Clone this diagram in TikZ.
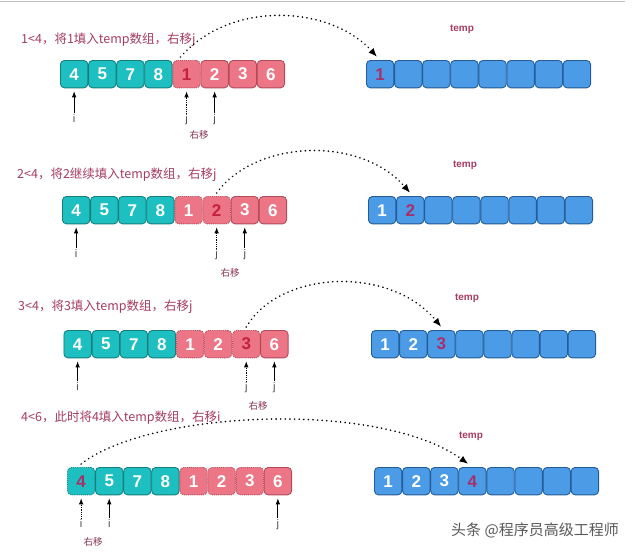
\documentclass[tikz,border=0pt]{standalone}
\usepackage{fontspec}
\setmainfont{Liberation Sans}
\newfontfamily\cjk{Noto Sans CJK SC}
\usetikzlibrary{arrows.meta}
\definecolor{teal1}{HTML}{1DBFC0}
\definecolor{teal2}{HTML}{13807F}
\definecolor{pink1}{HTML}{EC7686}
\definecolor{pink2}{HTML}{B34A5A}
\definecolor{blue1}{HTML}{4C9BE6}
\definecolor{blue2}{HTML}{245C96}
\definecolor{curred}{HTML}{C4203F}
\definecolor{tempred}{HTML}{A8306A}
\definecolor{lbl}{HTML}{A63D60}
\tikzset{
  cell/.style={minimum width=27.4pt, minimum height=27.4pt, rounded corners=4pt,
    line width=0.9pt, inner sep=0pt, anchor=north west, text=white,
    font=\fontsize{17}{17}\selectfont\bfseries},
  tealc/.style={cell, fill=teal1, draw=teal2},
  tealcur/.style={cell, fill=teal1, draw=teal2, densely dotted, text=tempred},
  pinkc/.style={cell, fill=pink1, draw=pink2},
  usedc/.style={cell, fill=pink1, draw=pink2, densely dotted},
  curc/.style={usedc, text=curred},
  bluec/.style={cell, fill=blue1, draw=blue2},
  bluecur/.style={bluec, text=tempred},
  ptr/.style={line width=0.8pt, -{Latex[length=6pt,width=4.5pt]}, shorten >=3pt},
  ptrold/.style={ptr, densely dotted},
  ptrlbl/.style={below, inner sep=1.5pt, text=black!70, font=\fontsize{11}{11}\selectfont},
  movelbl/.style={inner sep=0pt, text=lbl!80!black, font=\cjk\fontsize{9.5}{9.5}\selectfont},
  steplbl/.style={anchor=west, inner sep=0pt, text=lbl, font=\cjk\fontsize{12.5}{12.5}\selectfont},
  templbl/.style={inner sep=0pt, text=lbl, font=\fontsize{10}{10}\selectfont\bfseries},
  jump/.style={line width=1.8pt, dash pattern=on 0.01pt off 4.6pt, line cap=round,
    -{Latex[length=9pt,width=7pt]}},
}
\begin{document}
\begin{tikzpicture}[x=1pt,y=-1pt]
\useasboundingbox (0,0) rectangle (640,555);
\fill[white] (0,0) rectangle (640,555);
\draw[black!25, line width=0.8pt] (0,1) coordinate (tl) -- (625,1) coordinate (tr);

% ---------- row 1 ----------
\node[steplbl] (s1) at (21,40) {1<4，将1填入temp数组，右移j};
\node[templbl] (t1) at (462,29) {temp};
\foreach \v/\s [count=\k] in {4/tealc,5/tealc,7/tealc,8/tealc,1/curc,2/pinkc,3/pinkc,6/pinkc}
  \node[\s] (r1a\k) at ({60+(\k-1)*28.1},60) {\v};
\foreach \v/\s [count=\k] in {1/bluecur,/bluec,/bluec,/bluec,/bluec,/bluec,/bluec,/bluec}
  \node[\s] (r1t\k) at ({366+(\k-1)*28.1},60) {\v};
\coordinate (p1i) at ([yshift=-25pt]r1a1.south);
\coordinate (p1j) at ([yshift=-25pt]r1a5.south);
\coordinate (p1k) at ([yshift=-25pt]r1a6.south);
\draw[ptr] (p1i) -- (r1a1);
\draw[ptrold] (p1j) -- (r1a5);
\draw[ptr] (p1k) -- (r1a6);
\node[ptrlbl] (l1i) at (p1i) {i};
\node[ptrlbl] (l1j) at (p1j) {j};
\node[ptrlbl] (l1k) at (p1k) {j};
\node[movelbl] (m1) at (199,135) {右移};
\draw[jump] ([xshift=-6pt,yshift=3pt]r1a5.north) .. controls (230,0) and (330,5) .. ([xshift=-3pt,yshift=3pt]r1t1.north);

% ---------- row 2 ----------
\node[steplbl] (s2) at (17,175) {2<4，将2继续填入temp数组，右移j};
\node[templbl] (t2) at (465,165) {temp};
\foreach \v/\s [count=\k] in {4/tealc,5/tealc,7/tealc,8/tealc,1/usedc,2/curc,3/pinkc,6/pinkc}
  \node[\s] (r2a\k) at ({62+(\k-1)*28.1},196) {\v};
\foreach \v/\s [count=\k] in {1/bluec,2/bluecur,/bluec,/bluec,/bluec,/bluec,/bluec,/bluec}
  \node[\s] (r2t\k) at ({368+(\k-1)*28.1},196) {\v};
\coordinate (p2i) at ([yshift=-24pt]r2a1.south);
\coordinate (p2j) at ([yshift=-24pt]r2a6.south);
\coordinate (p2k) at ([yshift=-24pt]r2a7.south);
\draw[ptr] (p2i) -- (r2a1);
\draw[ptrold] (p2j) -- (r2a6);
\draw[ptr] (p2k) -- (r2a7);
\node[ptrlbl] (l2i) at (p2i) {i};
\node[ptrlbl] (l2j) at (p2j) {j};
\node[ptrlbl] (l2k) at (p2k) {j};
\node[movelbl] (m2) at (230,273) {右移};
\draw[jump] ([yshift=3pt]r2a6.north) .. controls (255,140) and (360,135) .. ([yshift=3pt]r2t2.north);

% ---------- row 3 ----------
\node[steplbl] (s3) at (18,307) {3<4，将3填入temp数组，右移j};
\node[templbl] (t3) at (467,298) {temp};
\foreach \v/\s [count=\k] in {4/tealc,5/tealc,7/tealc,8/tealc,1/usedc,2/usedc,3/curc,6/pinkc}
  \node[\s] (r3a\k) at ({63.5+(\k-1)*28.1},330) {\v};
\foreach \v/\s [count=\k] in {1/bluec,2/bluec,3/bluecur,/bluec,/bluec,/bluec,/bluec,/bluec}
  \node[\s] (r3t\k) at ({371+(\k-1)*28.1},330) {\v};
\coordinate (p3i) at ([yshift=-23pt]r3a1.south);
\coordinate (p3j) at ([yshift=-23pt]r3a7.south);
\coordinate (p3k) at ([yshift=-23pt]r3a8.south);
\draw[ptr] (p3i) -- (r3a1);
\draw[ptrold] (p3j) -- (r3a7);
\draw[ptr] (p3k) -- (r3a8);
\node[ptrlbl] (l3i) at (p3i) {i};
\node[ptrlbl] (l3j) at (p3j) {j};
\node[ptrlbl] (l3k) at (p3k) {j};
\node[movelbl] (m3) at (258,406) {右移};
\draw[jump] ([yshift=3pt]r3a7.north) .. controls (280,270) and (390,265) .. ([yshift=3pt]r3t3.north);

% ---------- row 4 ----------
\node[steplbl] (s4) at (21,418) {4<6，此时将4填入temp数组，右移i};
\node[templbl] (t4) at (471,436) {temp};
\foreach \v/\s [count=\k] in {4/tealcur,5/tealc,7/tealc,8/tealc,1/usedc,2/usedc,3/usedc,6/pinkc}
  \node[\s] (r4a\k) at ({67+(\k-1)*28.1},467) {\v};
\foreach \v/\s [count=\k] in {1/bluec,2/bluec,3/bluec,4/bluecur,/bluec,/bluec,/bluec,/bluec}
  \node[\s] (r4t\k) at ({374+(\k-1)*28.1},467) {\v};
\coordinate (p4i) at ([yshift=-23pt]r4a1.south);
\coordinate (p4k) at ([yshift=-23pt]r4a2.south);
\coordinate (p4j) at ([yshift=-23pt]r4a8.south);
\draw[ptrold] (p4i) -- (r4a1);
\draw[ptr] (p4k) -- (r4a2);
\draw[ptr] (p4j) -- (r4a8);
\node[ptrlbl] (l4i) at (p4i) {i};
\node[ptrlbl] (l4k) at (p4k) {i};
\node[ptrlbl] (l4j) at (p4j) {j};
\node[movelbl] (m4) at (93,542) {右移};
\draw[jump] ([yshift=3pt]r4a1.north) .. controls (150,410) and (380,400) .. ([xshift=-4pt,yshift=3pt]r4t4.north);

% ---------- watermark ----------
\node[inner sep=0pt, text=black!65, font=\cjk\fontsize{15}{15}\selectfont] (wm) at (535,530) {头条 @程序员高级工程师};
\end{tikzpicture}
\end{document}
